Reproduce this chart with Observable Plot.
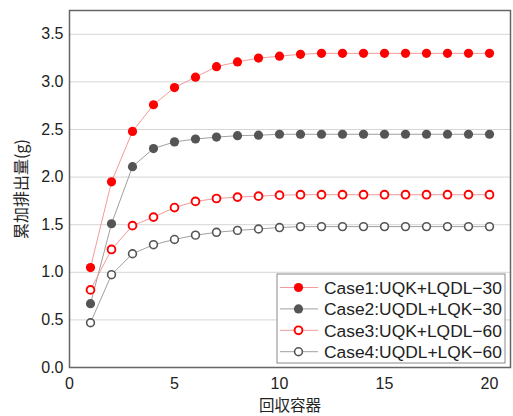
<!DOCTYPE html>
<html>
<head>
<meta charset="utf-8">
<script src="https://cdn.jsdelivr.net/npm/d3@7"></script>
<script src="https://cdn.jsdelivr.net/npm/@observablehq/plot@0.6"></script>
<style>
  html, body { margin: 0; padding: 0; background: white; }
  #chart { position: relative; width: 513px; height: 416px; }
</style>
</head>
<body>
<div id="chart"></div>
<script>
const containers = [1,2,3,4,5,6,7,8,9,10,11,12,13,14,15,16,17,18,19,20];
const case1 = [1.05,1.95,2.48,2.76,2.94,3.05,3.16,3.21,3.25,3.27,3.29,3.30,3.30,3.30,3.30,3.30,3.30,3.30,3.30,3.30];
const case2 = [0.67,1.51,2.11,2.30,2.37,2.40,2.42,2.435,2.44,2.45,2.45,2.45,2.45,2.45,2.45,2.45,2.45,2.45,2.45,2.45];
const case3 = [0.815,1.24,1.49,1.58,1.68,1.745,1.775,1.79,1.80,1.81,1.815,1.815,1.815,1.815,1.815,1.815,1.815,1.815,1.815,1.815];
const case4 = [0.47,0.975,1.195,1.29,1.345,1.39,1.42,1.44,1.455,1.47,1.48,1.48,1.48,1.48,1.48,1.48,1.48,1.48,1.48,1.48];
const seriesNames = ["Case1:UQK+LQDL−30","Case2:UQDL+LQK−30","Case3:UQK+LQDL−60","Case4:UQDL+LQK−60"];
const xTicks = [0,5,10,15,20];
const yTicks = [0,0.5,1.0,1.5,2.0,2.5,3.0,3.5];
const xLabel = "回収容器";
const yLabel = "累加排出量(g)";

const styles = [
  {values: case1, fill: "#ff0000", stroke: "none", line: "#f39a9a", r: 4.6, sw: 0},
  {values: case2, fill: "#555555", stroke: "none", line: "#a0a0a0", r: 4.6, sw: 0},
  {values: case3, fill: "white", stroke: "#ff0000", line: "#f39a9a", r: 3.9, sw: 1.9},
  {values: case4, fill: "white", stroke: "#555555", line: "#a0a0a0", r: 3.9, sw: 1.6}
];

const data = [];
styles.forEach((s, i) => s.values.forEach((v, j) => data.push({series: seriesNames[i], idx: i, x: containers[j], y: v})));

const cjk = "'Noto Sans CJK JP', sans-serif";
const marks = [
  Plot.ruleY(yTicks.filter(d => d > 0), {stroke: "#d6d6d6", strokeWidth: 1}),
  Plot.frame({stroke: "#666", strokeWidth: 1.5}),
  Plot.axisX({ticks: xTicks, tickSize: 0, tickPadding: 10, label: null, fontSize: 16}),
  Plot.axisY({ticks: yTicks, tickSize: 0, tickPadding: 6, tickFormat: d3.format(".1f"), label: null, fontSize: 16}),
  Plot.text([xLabel], {text: d => d, frameAnchor: "bottom", textAnchor: "middle", lineAnchor: "middle", dy: 39, fontSize: 15.5, fontFamily: cjk, fill: "#222"}),
  Plot.text([yLabel], {text: d => d, frameAnchor: "left", textAnchor: "middle", lineAnchor: "middle", dx: -48, rotate: -90, fontSize: 16, fontFamily: cjk, fill: "#222"})
];
styles.forEach((s, i) => {
  const d = data.filter(r => r.idx === i);
  marks.push(Plot.line(d, {x: "x", y: "y", stroke: s.line, strokeWidth: 1}));
});
styles.forEach((s, i) => {
  const d = data.filter(r => r.idx === i);
  marks.push(Plot.dot(d, {x: "x", y: "y", r: s.r, fill: s.fill, stroke: s.stroke, strokeWidth: s.sw}));
});

const chart = Plot.plot({
  width: 513, height: 416,
  marginLeft: 69, marginRight: 3, marginTop: 10, marginBottom: 49,
  style: {fontFamily: "'Liberation Sans', Arial, 'Noto Sans CJK JP', sans-serif", fontSize: "16px", color: "#222", background: "white"},
  x: {domain: [0, 21]},
  y: {domain: [0, 3.75]},
  marks
});
document.getElementById("chart").appendChild(chart);

// Legend inside the plot area (bottom right)
const svg = d3.select(chart);
const lg = svg.append("g").attr("transform", "translate(277,274)");
lg.append("rect").attr("width", 228).attr("height", 89).attr("fill", "white").attr("stroke", "#8a8a8a").attr("stroke-width", 1);
styles.forEach((s, i) => {
  const cy = 13.5 + i * 21.4;
  const row = lg.append("g").attr("transform", `translate(0,${cy})`);
  row.append("line").attr("x1", 3).attr("x2", 41).attr("y1", 0).attr("y2", 0).attr("stroke", s.line).attr("stroke-width", 1);
  row.append("circle").attr("cx", 21.5).attr("cy", 0).attr("r", s.r).attr("fill", s.fill).attr("stroke", s.stroke).attr("stroke-width", s.sw);
  row.append("text").attr("x", 47).attr("y", 0).attr("dy", "0.36em").attr("fill", "#222").attr("text-anchor", "start")
    .style("font-size", "17.4px").style("font-family", "'Liberation Sans', Arial, sans-serif").text(seriesNames[i]);
});
</script>
</body>
</html>
